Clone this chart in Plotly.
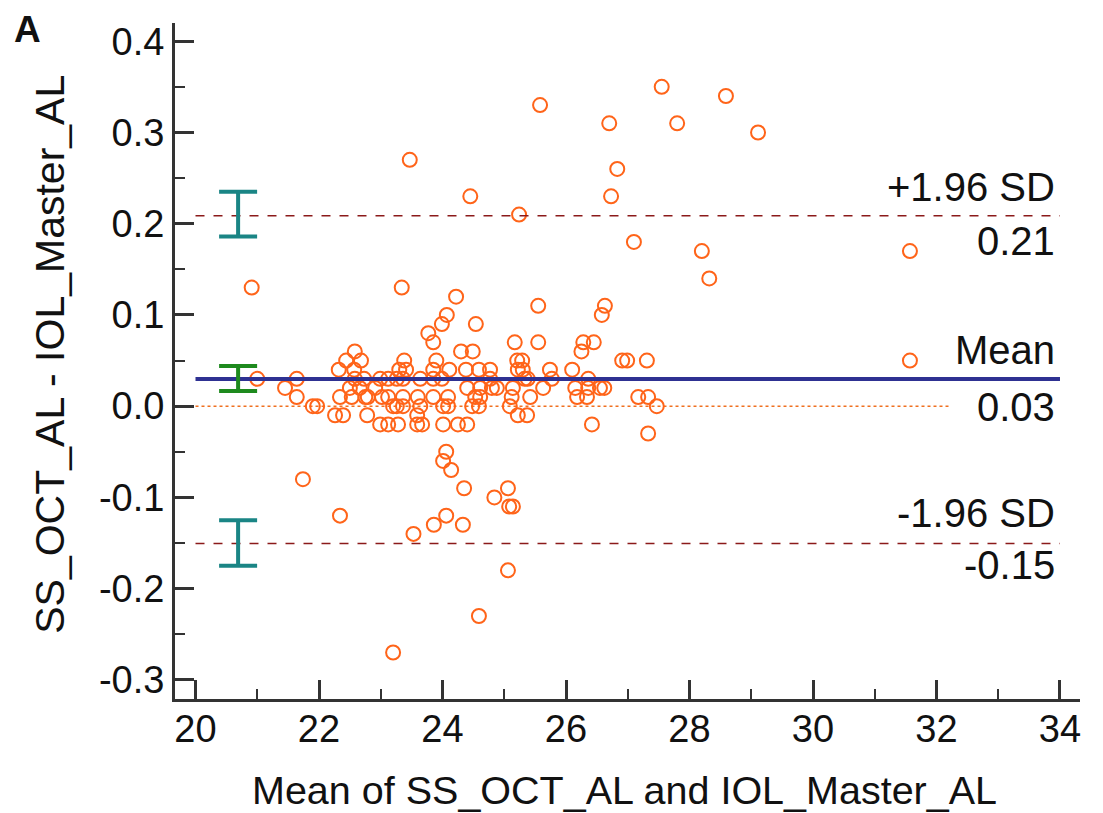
import plotly.graph_objects as go

# Bland-Altman data: mean of the two measurements (x) and their difference (y)
mean_al = [
    27.55,
    28.59,
    25.58,
    26.70, 27.80,
    29.11,
    23.47,
    26.83,
    24.45, 26.73,
    25.24,
    27.10,
    28.20, 31.57,
    28.32,
    20.91, 23.34,
    24.22,
    25.55, 26.63,
    24.07, 26.58,
    23.99, 24.54,
    23.77,
    23.85, 25.17, 25.55, 26.28, 26.45,
    22.58, 24.30, 24.49, 26.25,
    22.44, 22.68, 23.38, 23.90, 25.21, 25.29, 26.91, 26.99, 27.31, 31.57,
    22.32, 22.57, 23.30, 23.41, 23.85, 24.11, 24.38, 24.59, 24.77, 25.22, 25.30, 25.74, 26.10,
    21.00, 21.64, 22.58, 22.73, 22.99, 23.12, 23.26, 23.36, 23.64, 23.85, 23.99, 24.77, 25.33, 25.38, 25.77, 26.36,
    21.45, 22.50, 22.66, 22.91, 24.40, 24.61, 24.80, 24.88, 25.14, 25.63, 26.15, 26.36, 26.55, 26.62,
    21.64, 22.34, 22.53, 22.75, 22.79, 23.02, 23.12, 23.36, 23.60, 23.85, 24.09, 24.53, 24.61, 25.12, 25.42, 26.18, 26.34, 27.17, 27.33,
    21.90, 21.97, 23.20, 23.26, 23.36, 23.64, 24.01, 24.09, 24.48, 24.59, 25.09, 27.47,
    22.26, 22.39, 22.78, 23.59, 25.22, 25.37,
    22.99, 23.12, 23.28, 23.59, 23.67, 24.01, 24.25, 24.40, 26.42,
    27.33,
    24.06,
    24.01,
    24.14,
    21.74,
    24.35, 25.06,
    24.84,
    25.08, 25.14,
    22.34, 24.06,
    23.86, 24.33,
    23.53,
    25.06,
    24.59,
    23.20,
]
diff_al = [
    0.35,
    0.34,
    0.33,
    0.31, 0.31,
    0.30,
    0.27,
    0.26,
    0.23, 0.23,
    0.21,
    0.18,
    0.17, 0.17,
    0.14,
    0.13, 0.13,
    0.12,
    0.11, 0.11,
    0.10, 0.10,
    0.09, 0.09,
    0.08,
    0.07, 0.07, 0.07, 0.07, 0.07,
    0.06, 0.06, 0.06, 0.06,
    0.05, 0.05, 0.05, 0.05, 0.05, 0.05, 0.05, 0.05, 0.05, 0.05,
    0.04, 0.04, 0.04, 0.04, 0.04, 0.04, 0.04, 0.04, 0.04, 0.04, 0.04, 0.04, 0.04,
    0.03, 0.03, 0.03, 0.03, 0.03, 0.03, 0.03, 0.03, 0.03, 0.03, 0.03, 0.03, 0.03, 0.03, 0.03, 0.03,
    0.02, 0.02, 0.02, 0.02, 0.02, 0.02, 0.02, 0.02, 0.02, 0.02, 0.02, 0.02, 0.02, 0.02,
    0.01, 0.01, 0.01, 0.01, 0.01, 0.01, 0.01, 0.01, 0.01, 0.01, 0.01, 0.01, 0.01, 0.01, 0.01, 0.01, 0.01, 0.01, 0.01,
    0.00, 0.00, 0.00, 0.00, 0.00, 0.00, 0.00, 0.00, 0.00, 0.00, 0.00, 0.00,
    -0.01, -0.01, -0.01, -0.01, -0.01, -0.01,
    -0.02, -0.02, -0.02, -0.02, -0.02, -0.02, -0.02, -0.02, -0.02,
    -0.03,
    -0.05,
    -0.06,
    -0.07,
    -0.08,
    -0.09, -0.09,
    -0.10,
    -0.11, -0.11,
    -0.12, -0.12,
    -0.13, -0.13,
    -0.14,
    -0.18,
    -0.23,
    -0.27,
]

# Limits of agreement
mean_diff = 0.0297
upper_loa = 0.2088
lower_loa = -0.1505
line_x = [20, 34]
zero_line_x = [20, 32.2]

# Confidence intervals of mean and limits
ci_x = [20.69, 20.69, 20.69]
ci_center = [upper_loa, mean_diff, lower_loa]
ci_high = [0.235, 0.044, -0.125]
ci_low = [0.186, 0.0165, -0.175]
ci_colors = ["#1A8585", "#1E8A1E", "#1A8585"]

x_ticks = [20, 22, 24, 26, 28, 30, 32, 34]
x_tick_labels = ["20", "22", "24", "26", "28", "30", "32", "34"]
x_minor = [21, 23, 25, 27, 29, 31, 33]
y_ticks = [-0.3, -0.2, -0.1, 0.0, 0.1, 0.2, 0.3, 0.4]
y_tick_labels = ["-0.3", "-0.2", "-0.1", "0.0", "0.1", "0.2", "0.3", "0.4"]
y_minor = [-0.25, -0.15, -0.05, 0.05, 0.15, 0.25, 0.35]

FONT = "Liberation Sans, Arial, sans-serif"
AX = "#333333"
TXT = "#111111"

fig = go.Figure()

# zero reference line
fig.add_trace(go.Scatter(x=zero_line_x, y=[0, 0], mode="lines",
                         line=dict(color="#F07020", width=1.5, dash="dot"),
                         hoverinfo="skip", showlegend=False))

# data points
fig.add_trace(go.Scatter(x=mean_al, y=diff_al, mode="markers",
                         marker=dict(symbol="circle-open", size=14, color="#FF6419",
                                     line=dict(width=2, color="#FF6419")),
                         showlegend=False))

# limits of agreement
for val in [upper_loa, lower_loa]:
    fig.add_trace(go.Scatter(x=line_x, y=[val, val], mode="lines",
                             line=dict(color="#8B1A1A", width=1.5, dash="dash"),
                             hoverinfo="skip", showlegend=False))
fig.add_trace(go.Scatter(x=line_x, y=[mean_diff, mean_diff], mode="lines",
                         line=dict(color="#2E3192", width=4),
                         hoverinfo="skip", showlegend=False))

# CI bars
for i in range(3):
    fig.add_trace(go.Scatter(
        x=[ci_x[i]], y=[ci_center[i]], mode="markers",
        marker=dict(size=1, color="rgba(0,0,0,0)"),
        error_y=dict(type="data", symmetric=False,
                     array=[ci_high[i] - ci_center[i]],
                     arrayminus=[ci_center[i] - ci_low[i]],
                     color=ci_colors[i], thickness=4, width=19),
        hoverinfo="skip", showlegend=False))

annos = [
    ("+1.96 SD", upper_loa, 29),
    ("0.21", upper_loa, -25),
    ("Mean", mean_diff, 29),
    ("0.03", mean_diff, -28),
    ("-1.96 SD", lower_loa, 30),
    ("-0.15", lower_loa, -22),
]
for txt, yv, shift in annos:
    fig.add_annotation(x=0.9745, xref="paper", y=yv, yref="y", text=txt,
                       showarrow=False, xanchor="right", yanchor="middle",
                       yshift=shift, font=dict(family=FONT, size=40, color=TXT))

fig.add_annotation(x=-0.179, xref="paper", y=1.0, yref="paper", text="<b>A</b>",
                   showarrow=False, xanchor="left", yanchor="top", yshift=15,
                   borderpad=0,
                   font=dict(family=FONT, size=37, color=TXT))

fig.add_annotation(x=-0.1375, xref="paper", y=0.51, yref="paper",
                   text="SS_OCT_AL - IOL_Master_AL", textangle=-90,
                   showarrow=False, xanchor="center", yanchor="middle",
                   font=dict(family=FONT, size=41, color=TXT))
fig.add_annotation(x=0.497, xref="paper", y=-0.135, yref="paper",
                   text="Mean of SS_OCT_AL and IOL_Master_AL",
                   showarrow=False, xanchor="center", yanchor="middle",
                   font=dict(family=FONT, size=39.5, color=TXT))

fig.update_layout(
    width=1095, height=805,
    margin=dict(l=167, r=23, t=15, b=114),
    plot_bgcolor="white", paper_bgcolor="white",
    font=dict(family=FONT, size=38, color=TXT),
    xaxis=dict(range=[19.668, 34.324], showgrid=False, zeroline=False,
               showline=True, linewidth=3, linecolor=AX,
               ticks="inside", ticklen=19, tickwidth=3, tickcolor=AX,
               tickmode="array", tickvals=x_ticks, ticktext=x_tick_labels,
               ticklabelstandoff=-6,
               minor=dict(ticks="inside", ticklen=10, tickwidth=2, tickcolor=AX,
                          tickmode="array", tickvals=x_minor, showgrid=False),
               tickfont=dict(family=FONT, size=38, color=TXT)),
    yaxis=dict(range=[-0.321, 0.42], showgrid=False, zeroline=False,
               showline=True, linewidth=3, linecolor=AX,
               ticks="inside", ticklen=19, tickwidth=3, tickcolor=AX,
               tickmode="array", tickvals=y_ticks, ticktext=y_tick_labels,
               minor=dict(ticks="inside", ticklen=10, tickwidth=2, tickcolor=AX,
                          tickmode="array", tickvals=y_minor, showgrid=False),
               tickfont=dict(family=FONT, size=38, color=TXT)),
)

fig.write_html("out.html")
